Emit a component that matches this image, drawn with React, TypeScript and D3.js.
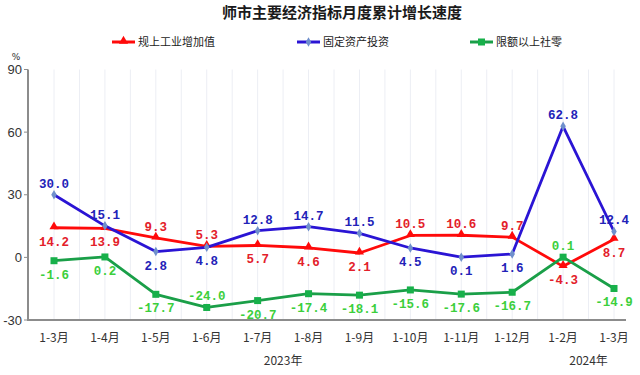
import React from "react";
import * as d3 from "d3";

const categories = ["1-3月", "1-4月", "1-5月", "1-6月", "1-7月", "1-8月", "1-9月", "1-10月", "1-11月", "1-12月", "1-2月", "1-3月"];
const industryValues = [14.2, 13.9, 9.3, 5.3, 5.7, 4.6, 2.1, 10.5, 10.6, 9.7, -4.3, 8.7];
const investValues = [30.0, 15.1, 2.8, 4.8, 12.8, 14.7, 11.5, 4.5, 0.1, 1.6, 62.8, 12.4];
const retailValues = [-1.6, 0.2, -17.7, -24.0, -20.7, -17.4, -18.1, -15.6, -17.6, -16.7, 0.1, -14.9];
const industryLabelPos = ["b", "b", "a", "a", "b", "b", "b", "a", "a", "a", "b", "b"];
const investLabelPos = ["a", "a", "b", "b", "a", "a", "a", "b", "b", "b", "a", "a"];
const retailLabelPos = ["b", "b", "b", "a", "b", "b", "b", "b", "b", "b", "a", "b"];
const yTicks = [90, 60, 30, 0, -30];
const years = [
  { label: "2023年", from: 0, to: 9 },
  { label: "2024年", from: 10, to: 11 },
];
const seriesNames = ["规上工业增加值", "固定资产投资", "限额以上社零"];
const title = "师市主要经济指标月度累计增长速度";

const W = 640;
const H = 375;

export default function App() {
  const x = d3.scaleLinear().domain([0, categories.length - 1]).range([54, 614]);
  const y = d3.scaleLinear().domain([-30, 90]).range([320, 69.5]);
  const axisLeft = 28;
  const axisRight = 626;

  const series = [
    { name: seriesNames[0], values: industryValues, pos: industryLabelPos, line: "#ff0a0a", marker: "#ff0a0a", text: "#e3202a", shape: "tri" },
    { name: seriesNames[1], values: investValues, pos: investLabelPos, line: "#2a14d4", marker: "#6f8fcc", text: "#2222b8", shape: "dia" },
    { name: seriesNames[2], values: retailValues, pos: retailLabelPos, line: "#1a9f48", marker: "#17b04a", text: "#3ccf3c", shape: "sq" },
  ];

  const lineGen = d3
    .line<number>()
    .x((_, i) => x(i))
    .y((d) => y(d));

  const gridIdx = d3.range(0, categories.length - 0.5, 0.5);

  const marker = (shape: string, cx: number, cy: number, fill: string, key: string) => {
    if (shape === "tri") {
      const p = d3.symbol().type(d3.symbolTriangle).size(36)();
      return <path key={key} d={p || ""} transform={`translate(${cx},${cy - 1})`} fill={fill} />;
    }
    if (shape === "dia") {
      const p = d3.symbol().type(d3.symbolDiamond).size(26)();
      return <path key={key} d={p || ""} transform={`translate(${cx},${cy})`} fill={fill} />;
    }
    return <rect key={key} x={cx - 3.5} y={cy - 3.5} width={7} height={7} fill={fill} />;
  };

  const legendX = [112, 297, 470];

  return (
    <svg width={W} height={H} style={{ position: "absolute", left: 0, top: 0, background: "#fff" }}>
      <text x={342} y={17.5} textAnchor="middle" fontFamily="'Noto Sans CJK SC'" fontWeight="bold" fontSize={15} fill="#1a1a1a">
        {title}
      </text>

      {series.map((s, k) => (
        <g key={s.name}>
          <line x1={legendX[k]} x2={legendX[k] + 23} y1={42} y2={42} stroke={s.line} strokeWidth={3} />
          {marker(s.shape, legendX[k] + 11.5, 42, s.marker, "lm" + k)}
          <text x={legendX[k] + 26} y={46} fontFamily="'Noto Sans CJK SC'" fontSize={11} fill="#222">
            {s.name}
          </text>
        </g>
      ))}

      <text x={16} y={60} textAnchor="middle" fontFamily="'DejaVu Sans'" fontSize={9} fill="#333">%</text>

      {gridIdx.map((g) => (
        <line key={"g" + g} x1={x(g)} x2={x(g)} y1={y(90)} y2={y(-30)} stroke="#eceef4" strokeWidth={1} />
      ))}

      <line x1={axisLeft} x2={axisLeft} y1={y(90)} y2={y(-30) + 1} stroke="#8c8c8c" strokeWidth={2} />
      <line x1={axisLeft - 1} x2={axisRight} y1={y(-30)} y2={y(-30)} stroke="#8c8c8c" strokeWidth={2} />
      {yTicks.map((t) => (
        <g key={"yt" + t}>
          <line x1={axisLeft - 4} x2={axisLeft} y1={y(t)} y2={y(t)} stroke="#8c8c8c" strokeWidth={1} />
          <text x={axisLeft - 6} y={y(t) + 4.5} textAnchor="end" fontFamily="'Liberation Sans'" fontSize={13} fill="#333">
            {t}
          </text>
        </g>
      ))}

      {categories.map((c, i) => (
        <text key={"xc" + i} x={x(i)} y={341.5} textAnchor="middle" fontFamily="'Noto Sans CJK SC'" fontSize={12} fill="#333">
          {c}
        </text>
      ))}
      {years.map((yr) => (
        <text key={yr.label} x={x((yr.from + yr.to) / 2)} y={365} textAnchor="middle" fontFamily="'Noto Sans CJK SC'" fontSize={12} fill="#333">
          {yr.label}
        </text>
      ))}

      {series.map((s, k) => (
        <g key={"s" + k}>
          <path d={lineGen(s.values) || ""} fill="none" stroke={s.line} strokeWidth={2.8} strokeLinejoin="round" />
          {s.values.map((v, i) => marker(s.shape, x(i), y(v), s.marker, `m${k}-${i}`))}
        </g>
      ))}

      {series.map((s, k) => (
        <g key={"l" + k}>
          {s.values.map((v, i) => (
            <text
              key={`t${k}-${i}`}
              x={x(i)}
              y={s.pos[i] === "a" ? y(v) - 7 : y(v) + 18}
              textAnchor="middle"
              fontFamily="'Liberation Mono'"
              fontWeight="bold"
              fontSize={12.5}
              fill={s.text}
            >
              {v.toFixed(1)}
            </text>
          ))}
        </g>
      ))}
    </svg>
  );
}
